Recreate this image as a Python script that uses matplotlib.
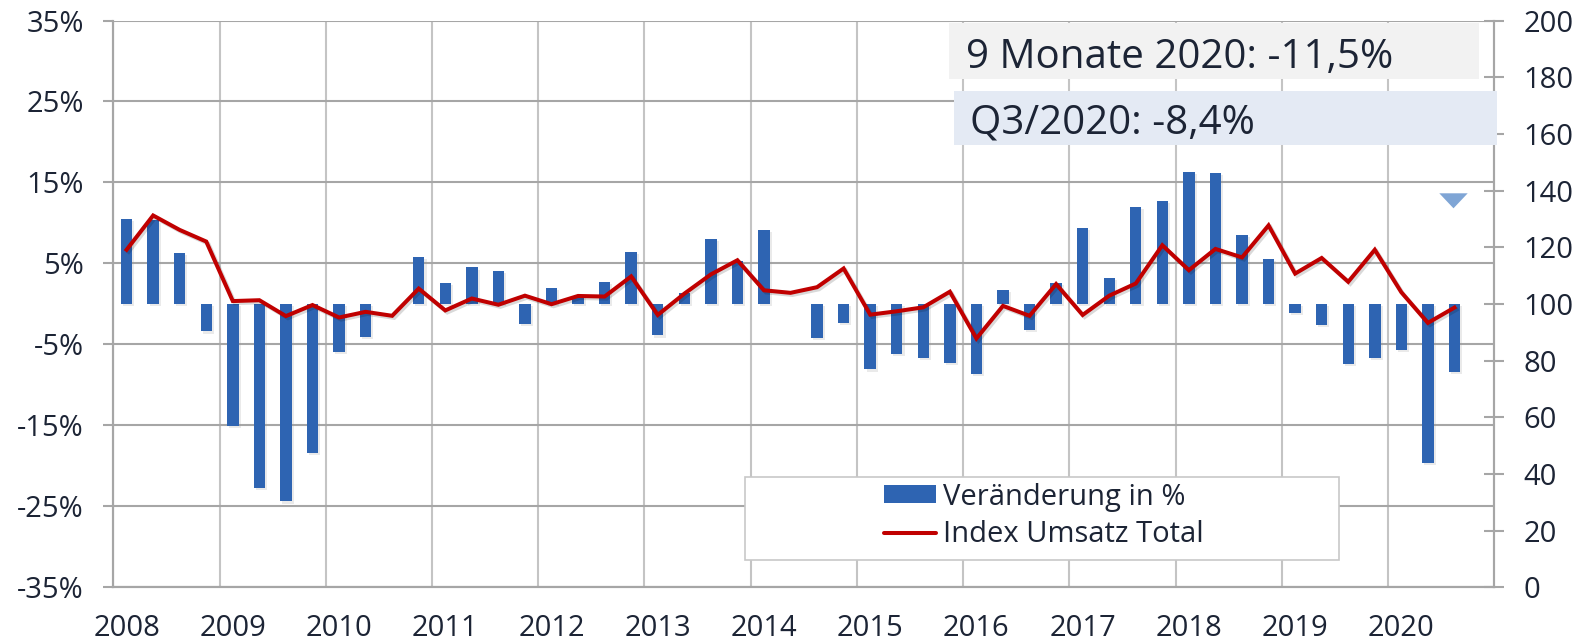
import matplotlib
matplotlib.use("Agg")
import matplotlib.pyplot as plt
import matplotlib.patheffects as pe
from matplotlib.patches import Rectangle, Polygon
import numpy as np

# quarterly data, Q1 2008 .. Q3 2020
years = [str(y) for y in range(2008, 2021)]

veraenderung = [
    10.5, 10.3, 6.3, -3.4,       # 2008
    -15.1, -22.7, -24.4, -18.4,  # 2009
    -5.9, -4.1, 0.0, 5.8,        # 2010
    2.6, 4.5, 4.1, -2.5,         # 2011
    2.0, 1.0, 2.7, 6.4,          # 2012
    -3.9, 1.3, 8.0, 5.3,         # 2013
    9.1, 0.0, -4.2, -2.4,        # 2014
    -8.1, -6.2, -6.7, -7.3,      # 2015
    -8.7, 1.7, -3.2, 2.6,        # 2016
    9.4, 3.2, 12.0, 12.7,        # 2017
    16.3, 16.2, 8.5, 5.6,        # 2018
    -1.1, -2.6, -7.4, -6.7,      # 2019
    -5.7, -19.7, -8.4,           # 2020
]

index_umsatz = [
    119.1, 131.2, 126.1, 122.0,
    101.0, 101.3, 95.7, 99.6,
    95.2, 97.2, 95.8, 105.4,
    97.7, 101.9, 99.7, 102.9,
    99.9, 102.8, 102.6, 109.7,
    96.1, 103.6, 110.4, 115.4,
    104.8, 103.9, 105.9, 112.5,
    96.2, 97.4, 98.8, 104.3,
    87.8, 99.3, 95.8, 107.0,
    96.1, 102.9, 107.2, 120.7,
    111.9, 119.4, 116.4, 127.7,
    110.7, 116.2, 107.8, 119.1,
    104.1, 93.3, 98.7,
]

label_9m = "9 Monate 2020: -11,5%"
label_q3 = "Q3/2020: -8,4%"

BAR_COL = "#2e64b2"
LINE_COL = "#c00000"
GRID_H = "#a6a6a6"
GRID_V = "#c4c4c4"
TXT = "#1c2435"

plt.rcParams["font.family"] = ["Open Sans", "DejaVu Sans"]

W, H = 1583, 644
fig = plt.figure(figsize=(W / 100, H / 100), dpi=100)


def px(x, y):
    # pixel position (from top-left) -> figure fraction
    return x / W, 1 - y / H


L, R, T, B = 113.3, 1494.3, 20.5, 587.3
ax = fig.add_axes([L / W, 1 - B / H, (R - L) / W, (B - T) / H])
ax2 = ax.twinx()

n = len(veraenderung)
xpos = np.arange(n) + 0.5

bars = ax.bar(xpos, veraenderung, width=0.43, color=BAR_COL, zorder=3)
for b in bars:
    b.set_path_effects([pe.SimplePatchShadow(offset=(1.5, -1.5), shadow_rgbFace="#999999", alpha=0.2),
                        pe.Normal()])

ax2.plot(xpos, index_umsatz, color=LINE_COL, lw=2.9, solid_joinstyle="miter", zorder=4,
         path_effects=[pe.SimpleLineShadow(offset=(1.5, -1.5), alpha=0.15), pe.Normal()])

# left axis
ax.set_xlim(0, 52)
ax.set_ylim(-35, 35)
ax.set_yticks(np.arange(-35, 36, 10))
ax.set_yticklabels([f"{v}%" for v in range(-35, 36, 10)])
ax.yaxis.grid(True, color=GRID_H, lw=1.5)
ax.set_axisbelow(True)
ax.tick_params(axis="y", direction="out", length=7.2, width=1.5, color=GRID_H,
               pad=14, labelsize=21, labelcolor=TXT)

# x axis: gridlines at year boundaries, labels under Q1
ax.set_xticks(np.arange(0, 49, 4))
ax.set_xticklabels([])
ax.set_xticks(np.arange(0, 49, 4) + 0.5, minor=True)
ax.set_xticklabels(years, minor=True)
ax.xaxis.grid(True, which="major", color=GRID_V, lw=1.5)
ax.tick_params(axis="x", which="both", length=0, pad=19, labelsize=21, labelcolor=TXT)

# right axis
ax2.set_ylim(0, 200)
ax2.set_yticks(np.arange(0, 201, 20))
ax2.tick_params(axis="y", direction="inout", length=14.4, width=1.5, color=GRID_H,
                pad=14, labelsize=21, labelcolor=TXT)

for a in (ax, ax2):
    for s in a.spines.values():
        s.set_color(GRID_H)
        s.set_linewidth(1.5)
ax.spines["top"].set_visible(False)
ax2.spines["top"].set_visible(False)

# annotation boxes
x0, y0 = px(948.7, 79.3)
fig.patches.append(Rectangle((x0, y0), (1479.2 - 948.7) / W, (79.3 - 22.6) / H,
                             transform=fig.transFigure, facecolor="#f2f2f2", edgecolor="none", zorder=2))
x0, y0 = px(953.9, 145.0)
fig.patches.append(Rectangle((x0, y0), (1496.5 - 953.9) / W, (145.0 - 91.2) / H,
                             transform=fig.transFigure, facecolor="#e4eaf4", edgecolor="none", zorder=2))
fig.text(*px(966, 67.8), label_9m, fontsize=29, color=TXT, va="baseline", ha="left", zorder=3)
fig.text(*px(970.4, 133.5), label_q3, fontsize=29, color=TXT, va="baseline", ha="left", zorder=3)

# small marker triangle
tri = [px(1439.3, 193.3), px(1467.7, 193.3), px(1453.5, 208.3)]
fig.patches.append(Polygon(tri, closed=True, transform=fig.transFigure,
                           facecolor="#7fa5d5", edgecolor="none", zorder=2))

# legend frame + legend
x0, y0 = px(744.5, 560.0)
fig.patches.append(Rectangle((x0, y0), (1339 - 744.5) / W, (560.0 - 477.3) / H,
                             transform=fig.transFigure, facecolor="white", edgecolor="#c8c8c8",
                             lw=1.2, zorder=2))
h_bar = Rectangle((0, 0), 1, 1, facecolor=BAR_COL, edgecolor="none")
h_line = plt.Line2D([], [], color=LINE_COL, lw=2.9, solid_capstyle="round")
fig.legend([h_bar, h_line], ["Veränderung in %", "Index Umsatz Total"],
           loc="center left", bbox_to_anchor=px(861, 516), frameon=False,
           fontsize=21, labelcolor=TXT, handlelength=1.77, handleheight=0.58,
           handletextpad=0.25, labelspacing=0.3, borderpad=0.3)

fig.savefig("out.png", dpi=100)
